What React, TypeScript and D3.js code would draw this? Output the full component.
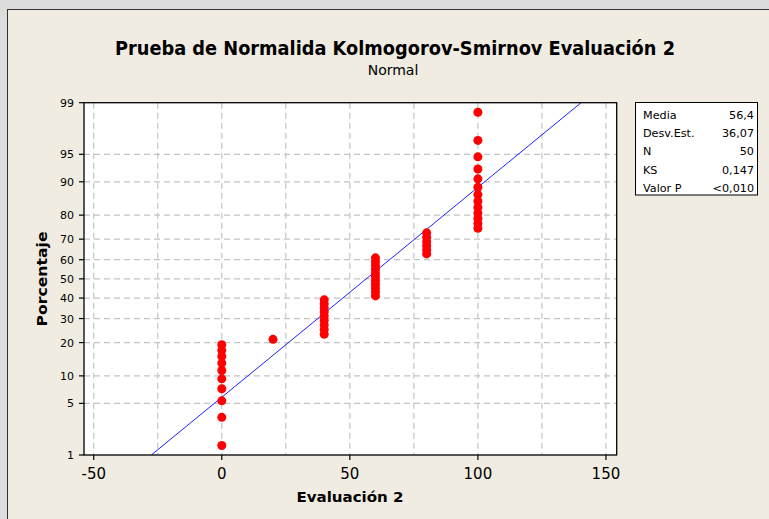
import React from "react";
import * as d3 from "d3";

const observations: number[] = [
  0, 0, 0, 0, 0, 0, 0, 0, 0, 0,
  20,
  40, 40, 40, 40, 40, 40, 40, 40, 40,
  60, 60, 60, 60, 60, 60, 60, 60, 60, 60, 60,
  80, 80, 80, 80, 80, 80,
  100, 100, 100, 100, 100, 100, 100, 100, 100, 100, 100, 100, 100,
];

const yTicks: number[] = [1, 5, 10, 20, 30, 40, 50, 60, 70, 80, 90, 95, 99];
const yGrid: number[] = [5, 10, 20, 30, 40, 50, 60, 70, 80, 90, 95];
const xTicks: number[] = [-50, 0, 50, 100, 150];
const xGrid: number[] = [-50, -25, 0, 25, 50, 75, 100, 125, 150];

const statLabels: string[] = ["Media", "Desv.Est.", "N", "KS", "Valor P"];
const statValues: string[] = ["56,4", "36,07", "50", "0,147", "<0,010"];

const fitMean = 56.4;
const fitSd = 36.07;

// Inverse standard normal CDF (Acklam)
function qnorm(p: number): number {
  const a = [-3.969683028665376e1, 2.209460984245205e2, -2.759285104469687e2, 1.38357751867269e2, -3.066479806614716e1, 2.506628277459239];
  const b = [-5.447609879822406e1, 1.615858368580409e2, -1.556989798598866e2, 6.680131188771972e1, -1.328068155288572e1];
  const c = [-7.784894002430293e-3, -3.223964580411365e-1, -2.400758277161838, -2.549732539343734, 4.374664141464968, 2.938163982698783];
  const d = [7.784695709041462e-3, 3.224671290700398e-1, 2.445134137142996, 3.754408661907416];
  const pl = 0.02425;
  let q: number, r: number;
  if (p < pl) {
    q = Math.sqrt(-2 * Math.log(p));
    return (((((c[0] * q + c[1]) * q + c[2]) * q + c[3]) * q + c[4]) * q + c[5]) / ((((d[0] * q + d[1]) * q + d[2]) * q + d[3]) * q + 1);
  } else if (p <= 1 - pl) {
    q = p - 0.5;
    r = q * q;
    return ((((((a[0] * r + a[1]) * r + a[2]) * r + a[3]) * r + a[4]) * r + a[5]) * q) / (((((b[0] * r + b[1]) * r + b[2]) * r + b[3]) * r + b[4]) * r + 1);
  } else {
    q = Math.sqrt(-2 * Math.log(1 - p));
    return -(((((c[0] * q + c[1]) * q + c[2]) * q + c[3]) * q + c[4]) * q + c[5]) / ((((d[0] * q + d[1]) * q + d[2]) * q + d[3]) * q + 1);
  }
}

const W = 769;
const H = 519;
const plotL = 84;
const plotR = 616.7;
const plotT = 102.7;
const plotB = 455;

const FONT = "Tahoma, 'DejaVu Sans', Verdana, sans-serif";

export default function App() {
  const x = d3.scaleLinear().domain([-53.8, 154.2]).range([plotL, plotR]);
  const y = d3.scaleLinear().domain([qnorm(0.01), qnorm(0.99)]).range([plotB, plotT]);
  const yp = (pct: number) => y(qnorm(pct / 100));

  const n = observations.length;
  const sorted = [...observations].sort((a, b) => a - b);
  const pts = sorted.map((v, i) => ({ v, p: (i + 1 - 0.3) / (n + 0.4) }));

  const z1 = qnorm(0.01);
  const z99 = qnorm(0.99);
  const line = d3.line<[number, number]>().x((d) => x(d[0])).y((d) => y(d[1]));
  const fitPath = line([
    [fitMean + fitSd * z1, z1],
    [fitMean + fitSd * z99, z99],
  ]);

  return (
    <svg width={W} height={H} style={{ position: "absolute", left: 0, top: 0 }} fontFamily={FONT}>
      <rect x={0} y={0} width={W} height={H} fill="#dcdcdc" />
      <rect x={7.5} y={9.5} width={W} height={H} fill="#f0ece2" stroke="#333" strokeWidth={1} />

      <text x={395} y={55} textAnchor="middle" fontSize={20} fontWeight="bold" fill="#000" textLength={560} lengthAdjust="spacingAndGlyphs">
        Prueba de Normalida Kolmogorov-Smirnov Evaluación 2
      </text>
      <text x={393} y={75} textAnchor="middle" fontSize={14} fill="#000">
        Normal
      </text>

      <rect x={plotL} y={plotT} width={plotR - plotL} height={plotB - plotT} fill="#ffffff" />

      <g stroke="#c4c4c4" strokeWidth={1.2} strokeDasharray="6,4" fill="none">
        {xGrid.map((g) => (
          <line key={"xg" + g} x1={x(g)} x2={x(g)} y1={plotT} y2={plotB} />
        ))}
        {yGrid.map((g) => (
          <line key={"yg" + g} x1={plotL} x2={plotR} y1={yp(g)} y2={yp(g)} />
        ))}
      </g>

      <defs>
        <clipPath id="plotclip">
          <rect x={plotL} y={plotT} width={plotR - plotL} height={plotB - plotT} />
        </clipPath>
      </defs>
      <path d={fitPath || ""} stroke="#2020ff" strokeWidth={1} fill="none" clipPath="url(#plotclip)" />

      {pts.map((d, i) => (
        <circle key={i} cx={x(d.v)} cy={y(qnorm(d.p))} r={4.5} fill="#ff0000" />
      ))}

      <rect x={plotL} y={plotT} width={plotR - plotL} height={plotB - plotT} fill="none" stroke="#000" strokeWidth={1.3} />

      {yTicks.map((t) => (
        <g key={"yt" + t}>
          <line x1={plotL - 5} x2={plotL} y1={yp(t)} y2={yp(t)} stroke="#000" strokeWidth={1.2} />
          <text x={74} y={yp(t)} dy="0.36em" textAnchor="end" fontSize={11} fill="#000">
            {t}
          </text>
        </g>
      ))}

      {xTicks.map((t) => (
        <g key={"xt" + t}>
          <line x1={x(t)} x2={x(t)} y1={plotB} y2={plotB + 5} stroke="#000" strokeWidth={1.2} />
          <text x={x(t)} y={479} textAnchor="middle" fontSize={15} fill="#000">
            {t}
          </text>
        </g>
      ))}

      <text x={350} y={501.5} textAnchor="middle" fontSize={14.5} fontWeight="bold" fill="#000" textLength={107} lengthAdjust="spacingAndGlyphs">
        Evaluación 2
      </text>
      <text
        transform={`translate(47,279) rotate(-90)`}
        textAnchor="middle"
        fontSize={14.5}
        fontWeight="bold"
        fill="#000"
        textLength={95}
        lengthAdjust="spacingAndGlyphs"
      >
        Porcentaje
      </text>

      <rect x={635.5} y={102.5} width={122} height={92.5} fill="#ffffff" stroke="#000" strokeWidth={1} />
      {statLabels.map((l, i) => (
        <g key={"st" + i}>
          <text x={643} y={118.5 + i * 18.4} fontSize={11.2} fill="#000">
            {l}
          </text>
          <text x={754} y={118.5 + i * 18.4} fontSize={11.2} textAnchor="end" fill="#000">
            {statValues[i]}
          </text>
        </g>
      ))}
    </svg>
  );
}
